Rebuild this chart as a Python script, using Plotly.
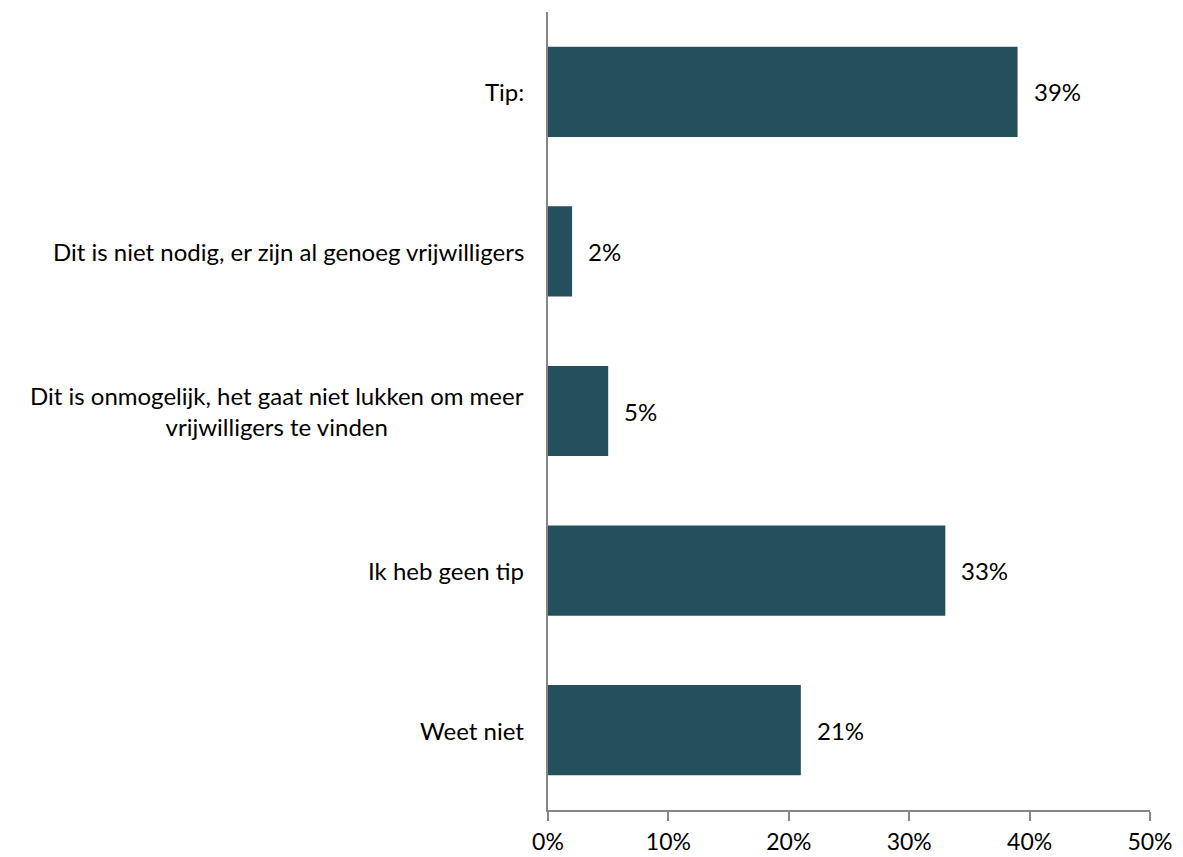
import plotly.graph_objects as go

categories = [
    "Tip:",
    "Dit is niet nodig, er zijn al genoeg vrijwilligers",
    "Dit is onmogelijk, het gaat niet lukken om meer<br>vrijwilligers te vinden",
    "Ik heb geen tip",
    "Weet niet",
]
values = [39, 2, 5, 33, 21]
value_labels = ["39%", "2%", "5%", "33%", "21%"]
x_ticks = [0, 10, 20, 30, 40, 50]
x_tick_labels = ["0%", "10%", "20%", "30%", "40%", "50%"]

bar_color = "#24505E"
axis_color = "#868686"
font_family = "Lato, 'Open Sans', sans-serif"
fsize = 24

fig = go.Figure()
fig.add_trace(go.Bar(
    x=values,
    y=categories,
    orientation="h",
    marker=dict(color=bar_color, line=dict(width=0)),
    width=0.565,
    hoverinfo="skip",
))

for cat in categories:
    fig.add_annotation(
        x=0, xref="paper", y=cat, yref="y",
        text=cat, showarrow=False,
        xanchor="right", yanchor="middle", align="center",
        xshift=-22,
        font=dict(family=font_family, size=fsize, color="#000000"),
    )

for cat, v, lab in zip(categories, values, value_labels):
    fig.add_annotation(
        x=v, xref="x", y=cat, yref="y",
        text=lab, showarrow=False,
        xanchor="left", yanchor="middle",
        xshift=14,
        font=dict(family=font_family, size=fsize, color="#000000"),
    )

# page body has an 8px default margin; compensate so the plot lands where the reference has it
fig.update_layout(
    width=1175, height=849,
    margin=dict(l=540, r=33, t=4, b=47),
    paper_bgcolor="white", plot_bgcolor="white",
    showlegend=False,
)
fig.update_xaxes(
    range=[0, 50],
    automargin=False,
    tickvals=x_ticks, ticktext=x_tick_labels,
    showgrid=False, zeroline=False,
    showline=True, linecolor=axis_color, linewidth=2,
    ticks="outside", ticklen=9, tickcolor=axis_color, tickwidth=2,
    tickfont=dict(family=font_family, size=23, color="#000000"),
    ticklabelstandoff=1,
)
fig.update_yaxes(
    autorange="reversed",
    automargin=False,
    showticklabels=False,
    showgrid=False, zeroline=False,
    showline=True, linecolor=axis_color, linewidth=2,
    ticks="",
)

fig.write_html("out.html")
